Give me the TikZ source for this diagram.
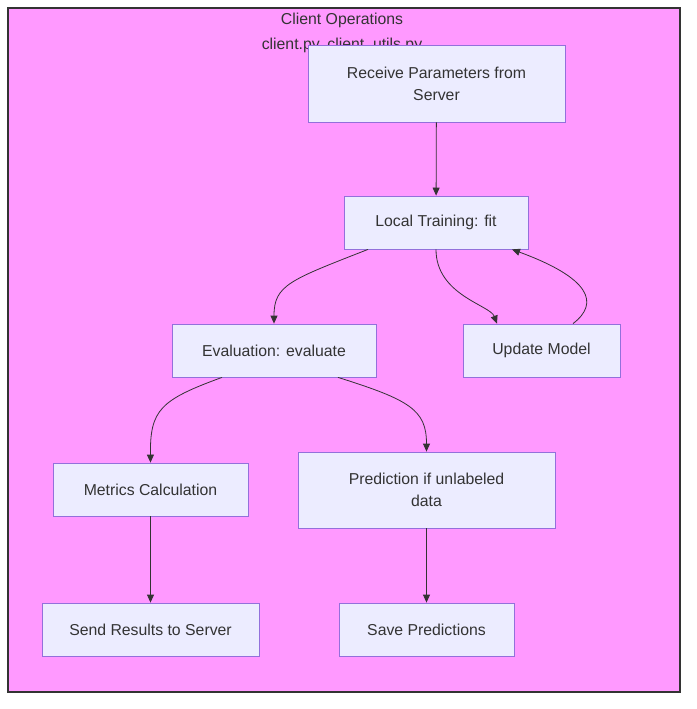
\documentclass[tikz,border=0pt]{standalone}
\usepackage{fontspec}
\setmainfont{Liberation Sans}
\usetikzlibrary{arrows.meta, positioning, calc}
\definecolor{clusterPink}{RGB}{255, 153, 255}
\definecolor{clusterLine}{RGB}{51, 51, 51}
\definecolor{boxFill}{RGB}{236, 236, 255}
\definecolor{boxLine}{RGB}{147, 112, 219}
\definecolor{edgeGray}{RGB}{51, 51, 51}
\definecolor{labelGray}{RGB}{51, 51, 51}

\begin{document}
\begin{tikzpicture}[x=1pt, y=-1pt,
    box/.style={draw=boxLine, fill=boxFill, line width=0.8pt, align=center, minimum height=53pt, inner sep=4pt, font=\fontsize{15.8}{22}\selectfont, text=labelGray},
    flow/.style={-{Triangle[length=8pt, width=7pt]}, edgeGray, line width=0.8pt}]
    \useasboundingbox (0,0) rectangle (696,709);
    \draw[clusterLine, fill=clusterPink, line width=1.2pt] (8,8) rectangle (680,692);
    \node[align=center, font=\fontsize{15.8}{25}\selectfont, text=labelGray] (title) at (342,33) {Client Operations\\client.py, client\_utils.py};

    \node[box, minimum width=257pt, minimum height=77pt] (recv) at (436.5,83.5) {Receive Parameters from\\Server};
    \node[box, minimum width=184pt] (fit) at (436,222.5) {Local Training: fit};
    \node[box, minimum width=204pt] (eval) at (274,350.5) {Evaluation: evaluate};
    \node[box, minimum width=157pt] (upd) at (541.5,350.5) {Update Model};
    \node[box, minimum width=195pt] (metrics) at (150.5,489.5) {Metrics Calculation};
    \node[box, minimum width=257pt, minimum height=76pt] (pred) at (426.5,490) {Prediction if unlabeled\\data};
    \node[box, minimum width=217pt] (send) at (150.5,629.5) {Send Results to Server};
    \node[box, minimum width=175pt] (save) at (426.5,629.5) {Save Predictions};

    \draw[flow] (recv) -- (fit);
    \draw[flow] ([xshift=-68pt]fit.south) .. controls (290,280) and (274,285) .. (eval.north);
    \draw[flow] (fit.south) .. controls (436,295) and (490,305) .. ([xshift=-44.5pt]upd.north);
    \draw[flow] ([xshift=31.5pt]upd.north) .. controls (600,303) and (590,278) .. ([xshift=76pt]fit.south);
    \draw[flow] ([xshift=-52pt]eval.south) .. controls (160,400) and (150,410) .. (metrics.north);
    \draw[flow] ([xshift=64pt]eval.south) .. controls (410,400) and (426.5,410) .. (pred.north);
    \draw[flow] (metrics) -- (send);
    \draw[flow] (pred) -- (save);
\end{tikzpicture}
\end{document}
